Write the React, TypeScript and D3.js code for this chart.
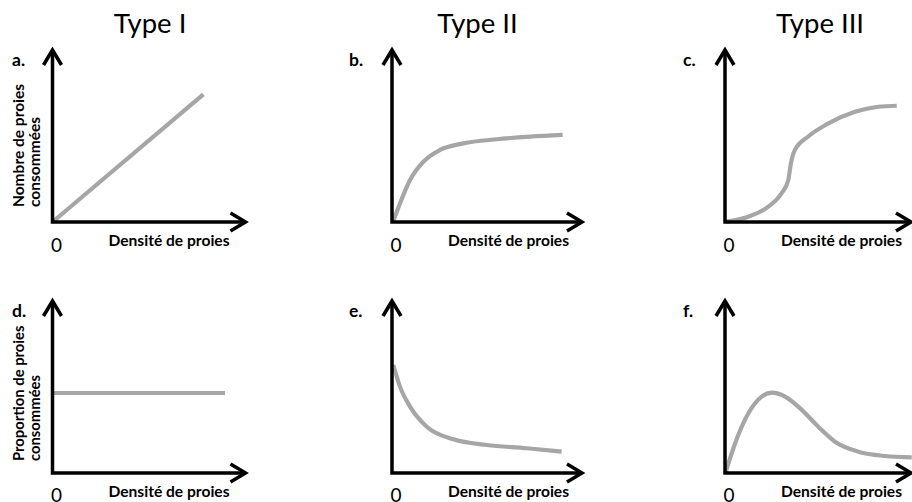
import React from "react";
import * as d3 from "d3";

type Pt = [number, number];

// ---- data (unit = arbitrary axis units 0..10) ----
const typeTitles = ["Type I", "Type II", "Type III"];
const panelLetters = ["a.", "b.", "c.", "d.", "e.", "f."];
const yLabelTop = ["Nombre de proies", "consommées"];
const yLabelBottom = ["Proportion de proies", "consommées"];
const xLabel = "Densité de proies";
const zeroLabel = "0";

const curveA: Pt[] = [[0, 0], [7.94, 7.42]];
const curveB: Pt[] = [[0.05, 0.0], [0.42, 1.08], [0.95, 2.44], [1.65, 3.5], [2.53, 4.19], [3.75, 4.57], [5.51, 4.81], [7.26, 4.96], [8.98, 5.06]];
const curveC: Pt[] = [[0.05, 0.02], [1.23, 0.31], [2.28, 0.89], [2.98, 1.67], [3.33, 2.44], [3.47, 3.41], [3.68, 4.19], [4.38, 4.97], [5.44, 5.73], [6.84, 6.41], [8.07, 6.7], [9.04, 6.76]];
const curveD: Pt[] = [[0, 4.65], [9.08, 4.65]];
const curveE: Pt[] = [[0.07, 6.28], [0.42, 5.02], [0.95, 3.86], [1.83, 2.69], [3.23, 1.96], [4.98, 1.63], [7.09, 1.44], [8.93, 1.24]];
const curveF: Pt[] = [[0.05, 0.1], [0.53, 1.72], [1.23, 3.47], [1.93, 4.44], [2.46, 4.67], [3.16, 4.44], [4.04, 3.67], [4.91, 2.69], [5.79, 1.82], [7.02, 1.24], [8.42, 0.99], [9.83, 0.91]];

const curves = [curveA, curveB, curveC, curveD, curveE, curveF];

// ---- layout ----
const W = 912, H = 502;
const colX = [52.5, 392, 725];
const rowTop = [50, 301];
const axisLen = [193, 190, 186];
const FONT = "Lato, 'Open Sans', sans-serif";

const x = d3.scaleLinear().domain([0, 10]).range([0, 190]);
const y = d3.scaleLinear().domain([0, 10]).range([172, 0]);

const lineGen = d3.line<Pt>().x(d => x(d[0])).y(d => y(d[1])).curve(d3.curveMonotoneX);

function Panel({ idx }: { idx: number }) {
  const col = idx % 3;
  const row = Math.floor(idx / 3);
  const ox = colX[col];
  const top = rowTop[row];
  const len = axisLen[col];
  const yTip = y(10);
  const ah = 15, aw = 9;
  const yl = row === 0 ? yLabelTop : yLabelBottom;
  return (
    <g transform={`translate(${ox},${top})`}>
      <path d={lineGen(curves[idx]) || ""} fill="none" stroke="#a6a6a6" strokeWidth={4.2} />
      <path d={`M0,${y(0)}V${yTip}M-1.75,${y(0)}H${len}`} stroke="#000" strokeWidth={3.5} fill="none" />
      <path d={`M${-aw},${yTip + ah}L0,${yTip}L${aw},${yTip + ah}`} stroke="#000" strokeWidth={3.5} fill="none" />
      <path d={`M${len - ah},${y(0) - aw}L${len},${y(0)}L${len - ah},${y(0) + aw}`} stroke="#000" strokeWidth={3.5} fill="none" />
      <text x={col === 0 ? -40.5 : col === 1 ? -43 : -42} y={16} fontFamily={FONT} fontWeight="bold" fontSize={17.5}>{panelLetters[idx]}</text>
      <text x={4} y={y(0) + (row === 0 ? 30 : 29)} fontFamily={FONT} fontSize={19} textAnchor="middle">{zeroLabel}</text>
      <text x={116.5} y={y(0) + 23.5} fontFamily={FONT} fontWeight="bold" fontSize={15.6} textAnchor="middle">{xLabel}</text>
      {col === 0 && yl.map((t, i) => (
        <text key={i} transform={`translate(${(i === 0 ? 23.5 : 40) - ox},${row === 0 ? 157 : 160}) rotate(-90)`} fontFamily={FONT} fontWeight="bold" fontSize={row === 0 ? 15.5 : 14.8} textAnchor="start">{t}</text>
      ))}
    </g>
  );
}

export default function App() {
  const titleX = [150, 477.5, 820];
  return (
    <svg width={W} height={H} style={{ position: "absolute", left: 0, top: 0, background: "#fff" }}>
      <rect width={W} height={H} fill="#fff" />
      {typeTitles.map((t, i) => (
        <text key={t} x={titleX[i]} y={33} textAnchor="middle" fontFamily={FONT} fontSize={27.5}>{t}</text>
      ))}
      {curves.map((_, i) => <Panel key={i} idx={i} />)}
    </svg>
  );
}
